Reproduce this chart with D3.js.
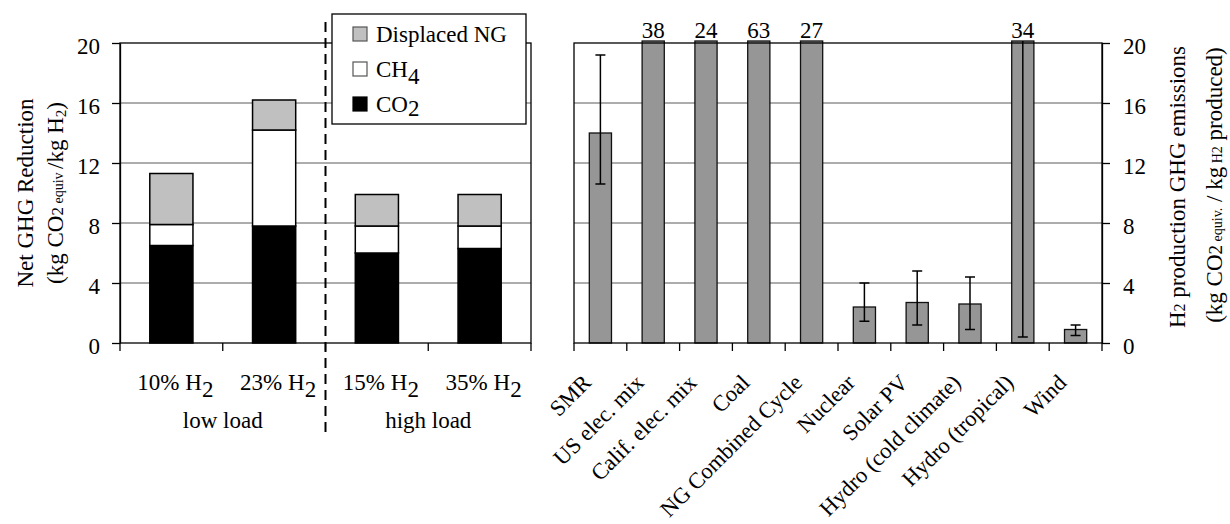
<!DOCTYPE html>
<html><head><meta charset="utf-8">
<script src="https://cdn.jsdelivr.net/npm/d3@7"></script>
<style>
body{margin:0;background:#fff}
svg{display:block;background:#fff}
text{font-family:"Liberation Serif","Times New Roman",serif;fill:#000}
</style>
</head><body>
<svg id="c" width="1230" height="524"></svg>
<script>
// ---------- DATA ----------
const leftCategories = ["10% H", "23% H", "15% H", "35% H"];
const leftSub = ["2", "2", "2", "2"];
const leftGroups = ["low load", "high load"];
const co2Values = [6.5, 7.8, 6.0, 6.3];
const ch4Values = [1.4, 6.4, 1.8, 1.5];
const displacedNGValues = [3.4, 2.0, 2.1, 2.1];
const seriesNames = ["CO2", "CH4", "Displaced NG"];

const rightCategories = ["SMR", "US elec. mix", "Calif. elec. mix", "Coal", "NG Combined Cycle",
  "Nuclear", "Solar PV", "Hydro (cold climate)", "Hydro (tropical)", "Wind"];
const rightValues = [14, 38, 24, 63, 27, 2.4, 2.7, 2.6, 34, 0.9];
const errLow  = [10.6, null, null, null, null, 1.45, 1.2, 0.9, 0.4, 0.5];
const errHigh = [19.2, null, null, null, null, 4.0, 4.8, 4.4, 40, 1.2];

const yTicks = [0, 4, 8, 12, 16, 20];
const yMax = 20;

// ---------- LAYOUT ----------
const svg = d3.select("#c");
const FS = 23;
const plotTop = 43, plotBottom = 343;
const L = {x0: 120, x1: 531};
const R = {x0: 574, x1: 1102};
const colors = {"CO2": "#000000", "CH4": "#ffffff", "Displaced NG": "#c0c0c0"};

const yL = d3.scaleLinear().domain([0, yMax]).range([plotBottom, plotTop]);
const yR = d3.scaleLinear().domain([0, yMax]).range([plotBottom, plotTop]);
const xL = d3.scaleBand().domain(leftCategories).range([L.x0, L.x1]).paddingInner(0.58).paddingOuter(0.29);
const xR = d3.scaleBand().domain(rightCategories).range([R.x0, R.x1]).paddingInner(0.58).paddingOuter(0.29);

function grid(x0, x1, y) {
  svg.append("g").selectAll("line").data(yTicks.filter(t => t > 0 && t < yMax)).join("line")
    .attr("x1", x0).attr("x2", x1).attr("y1", d => y(d)).attr("y2", d => y(d))
    .attr("stroke", "#5a5a5a").attr("stroke-width", 1);
}
grid(L.x0, L.x1, yL);
grid(R.x0, R.x1, yR);

// ---------- LEFT STACKED BARS ----------
const leftRows = leftCategories.map((c, i) => ({cat: c, "CO2": co2Values[i], "CH4": ch4Values[i], "Displaced NG": displacedNGValues[i]}));
const stacked = d3.stack().keys(seriesNames)(leftRows);
svg.append("g").selectAll("g").data(stacked).join("g")
  .attr("fill", d => colors[d.key])
  .selectAll("rect").data(d => d).join("rect")
  .attr("x", d => xL(d.data.cat)).attr("width", xL.bandwidth())
  .attr("y", d => yL(d[1])).attr("height", d => yL(d[0]) - yL(d[1]))
  .attr("stroke", "#000").attr("stroke-width", 1.5);

// ---------- RIGHT BARS ----------
const rightRows = rightCategories.map((c, i) => ({cat: c, v: rightValues[i], lo: errLow[i], hi: errHigh[i]}));
const over = 2;
svg.append("g").selectAll("rect").data(rightRows).join("rect")
  .attr("x", d => xR(d.cat)).attr("width", xR.bandwidth())
  .attr("y", d => yR(Math.min(d.v, yMax)) - (d.v > yMax ? over : 0))
  .attr("height", d => yR(0) - yR(Math.min(d.v, yMax)) + (d.v > yMax ? over : 0))
  .attr("fill", "#969696").attr("stroke", "#111").attr("stroke-width", 1.3);

// error bars
const eg = svg.append("g").attr("stroke", "#000").attr("stroke-width", 1.5);
rightRows.filter(d => d.lo != null).forEach(d => {
  const cx = xR(d.cat) + xR.bandwidth() / 2;
  const yHi = d.hi > yMax ? yR(yMax) - over : yR(d.hi);
  eg.append("line").attr("x1", cx).attr("x2", cx).attr("y1", yR(d.lo)).attr("y2", yHi);
  eg.append("line").attr("x1", cx - 5).attr("x2", cx + 5).attr("y1", yR(d.lo)).attr("y2", yR(d.lo));
  if (d.hi <= yMax) eg.append("line").attr("x1", cx - 5).attr("x2", cx + 5).attr("y1", yHi).attr("y2", yHi);
});

// value labels above clipped bars
svg.append("g").selectAll("text").data(rightRows.filter(d => d.v > yMax)).join("text")
  .attr("x", d => xR(d.cat) + xR.bandwidth() / 2).attr("y", yR(yMax) - 5)
  .attr("text-anchor", "middle").attr("font-size", FS).text(d => d.v);

// ---------- FRAMES ----------
svg.append("rect").attr("x", L.x0).attr("y", plotTop).attr("width", L.x1 - L.x0).attr("height", plotBottom - plotTop)
  .attr("fill", "none").attr("stroke", "#000").attr("stroke-width", 1.3);
svg.append("rect").attr("x", R.x0).attr("y", plotTop).attr("width", R.x1 - R.x0).attr("height", plotBottom - plotTop)
  .attr("fill", "none").attr("stroke", "#000").attr("stroke-width", 1.3);

// ---------- AXES ----------
function styleAxis(g) {
  g.select(".domain").attr("stroke", "#000").attr("stroke-width", 1.3);
  g.selectAll(".tick line").attr("stroke", "#000").attr("stroke-width", 1.3);
  g.selectAll(".tick text").attr("font-size", FS).attr("font-family", "Liberation Serif").attr("dy", "0.47em");
}
svg.append("g").attr("transform", `translate(${L.x0},0)`)
  .call(d3.axisLeft(yL).tickValues(yTicks).tickSize(8).tickSizeOuter(0).tickPadding(12).tickFormat(d3.format("d")))
  .call(styleAxis);
svg.append("g").attr("transform", `translate(${R.x1},0)`)
  .call(d3.axisRight(yR).tickValues(yTicks).tickSize(8).tickSizeOuter(0).tickPadding(13).tickFormat(d3.format("d")))
  .call(styleAxis);

// category boundary ticks on x axes
function xTicks(scale) {
  const n = scale.domain().length, r = scale.range(), step = (r[1] - r[0]) / n;
  svg.append("g").selectAll("line").data(d3.range(n + 1)).join("line")
    .attr("x1", i => r[0] + i * step).attr("x2", i => r[0] + i * step)
    .attr("y1", plotBottom).attr("y2", plotBottom + 8).attr("stroke", "#000").attr("stroke-width", 1.3);
}
xTicks(xL); xTicks(xR);

// left category labels
const lt = svg.append("g").selectAll("text").data(leftCategories).join("text")
  .attr("x", d => xL(d) + xL.bandwidth() / 2 + 4).attr("y", 390)
  .attr("text-anchor", "middle").attr("font-size", FS);
lt.append("tspan").text(d => d);
lt.append("tspan").attr("dy", 7).text((d, i) => leftSub[i]);

// group labels
const lstep = (L.x1 - L.x0) / leftCategories.length;
svg.append("g").selectAll("text").data(leftGroups).join("text")
  .attr("x", (d, i) => L.x0 + lstep * (2 * i + 1)).attr("y", 428)
  .attr("text-anchor", "middle").attr("font-size", FS).text(d => d);

// dashed separator
svg.append("line").attr("x1", L.x0 + 2 * lstep).attr("x2", L.x0 + 2 * lstep)
  .attr("y1", 22).attr("y2", 435).attr("stroke", "#000").attr("stroke-width", 2)
  .attr("stroke-dasharray", "10,6");

// right rotated labels
svg.append("g").selectAll("text").data(rightCategories).join("text")
  .attr("transform", d => `translate(${xR(d) + xR.bandwidth() / 2 - 8},384) rotate(-45)`)
  .attr("text-anchor", "end").attr("font-size", 22.5).text(d => d);

// ---------- AXIS TITLES ----------
const ymid = (plotTop + plotBottom) / 2;
svg.append("text").attr("transform", `translate(33,${ymid}) rotate(-90)`)
  .attr("text-anchor", "middle").attr("font-size", FS).text("Net GHG Reduction");
const t2 = svg.append("text").attr("transform", `translate(63,${ymid}) rotate(-90)`)
  .attr("text-anchor", "middle").attr("font-size", FS);
t2.append("tspan").text("(kg CO");
t2.append("tspan").attr("font-size", 17).text("2");
t2.append("tspan").attr("font-size", 14).text(" equiv ");
t2.append("tspan").text("/kg H");
t2.append("tspan").attr("font-size", 15).attr("dy", 3).text("2");
t2.append("tspan").attr("dy", -3).text(")");

const r1 = svg.append("text").attr("transform", `translate(1185,${ymid - 6}) rotate(-90)`)
  .attr("text-anchor", "middle").attr("font-size", FS);
r1.append("tspan").text("H");
r1.append("tspan").attr("font-size", 16).text("2");
r1.append("tspan").text(" production GHG emissions");
const r2 = svg.append("text").attr("transform", `translate(1222,${ymid - 8}) rotate(-90)`)
  .attr("text-anchor", "middle").attr("font-size", FS);
r2.append("tspan").text("(kg CO");
r2.append("tspan").attr("font-size", 19).text("2");
r2.append("tspan").attr("font-size", 14).text(" equiv.");
r2.append("tspan").text(" / kg");
r2.append("tspan").attr("font-size", 14).text(" H2");
r2.append("tspan").text(" produced)");

// ---------- LEGEND ----------
const legend = svg.append("g");
legend.append("rect").attr("x", 332).attr("y", 14).attr("width", 194).attr("height", 110)
  .attr("fill", "#fff").attr("stroke", "#000").attr("stroke-width", 1.3);
const legItems = [
  {key: "Displaced NG", main: "Displaced NG", sub: "", dy: 0},
  {key: "CH4", main: "CH", sub: "4", dy: 7},
  {key: "CO2", main: "CO", sub: "2", dy: 4}
];
const li = legend.selectAll("g.item").data(legItems).join("g").attr("class", "item")
  .attr("transform", (d, i) => `translate(353,${42 + i * 35})`);
li.append("rect").attr("x", 0).attr("y", -15).attr("width", 14).attr("height", 14)
  .attr("fill", d => colors[d.key]).attr("stroke", d => d.key === "CO2" ? "#000" : "#555").attr("stroke-width", 1.2);
const ltx = li.append("text").attr("x", 23).attr("y", 0).attr("font-size", FS);
ltx.append("tspan").text(d => d.main);
ltx.append("tspan").attr("dy", d => d.dy).text(d => d.sub);
</script>
</body></html>
